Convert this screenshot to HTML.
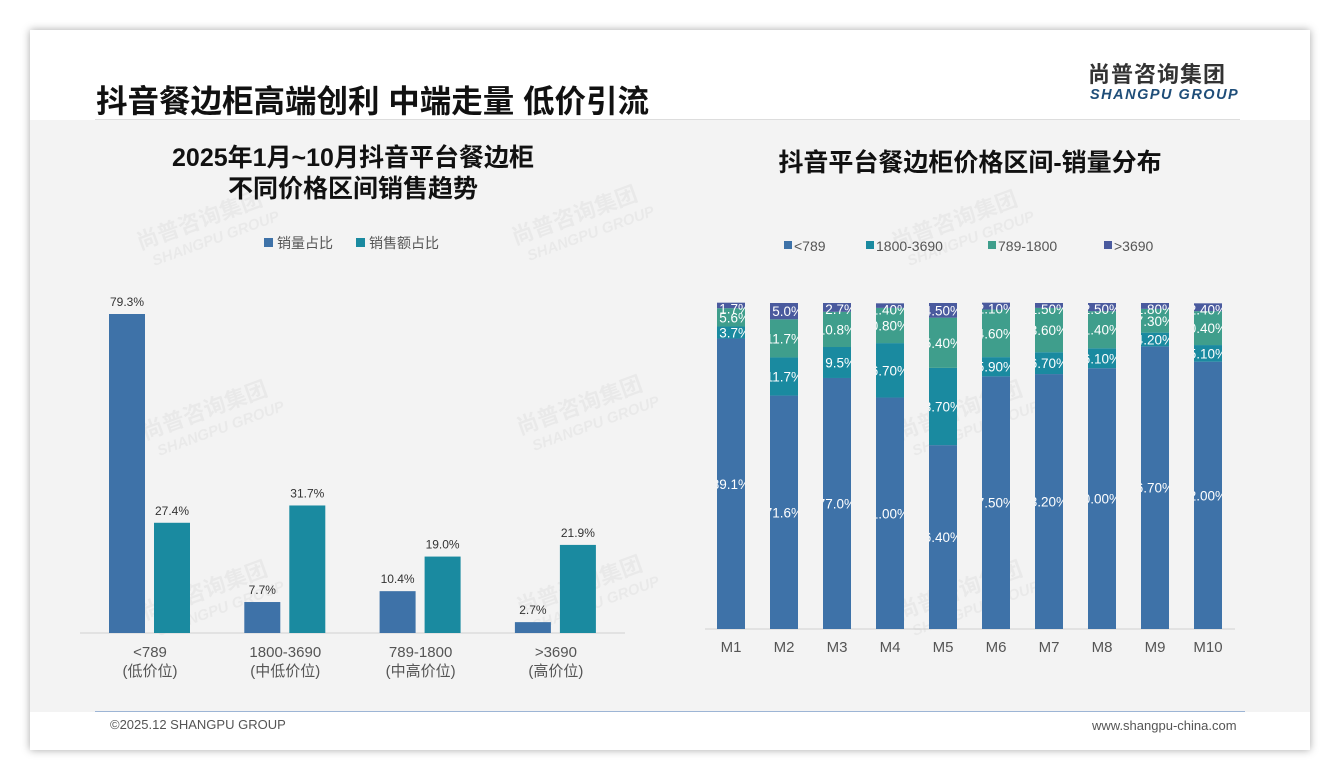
<!DOCTYPE html>
<html><head><meta charset="utf-8">
<style>
body{margin:0;width:1340px;height:780px;background:#fff;font-family:"Liberation Sans","Noto Sans CJK SC",sans-serif;overflow:hidden}
#card{position:absolute;left:30px;top:30px;width:1280px;height:720px;background:#fff;box-shadow:0 0 8px rgba(0,0,0,.35)}
#inner{position:absolute;left:30px;top:120px;width:1280px;height:592px;background:#f3f3f3}
.t{position:absolute;white-space:nowrap}
</style></head><body>
<div id="card"></div>
<div id="inner"></div>
<div class="t" style="left:96px;top:76px;font-size:31.5px;font-weight:bold;color:#111">抖音餐边柜高端创利 中端走量 低价引流</div>
<div class="t" style="left:1088px;top:57px;font-size:22px;font-weight:bold;color:#333;letter-spacing:1px">尚普咨询集团</div>
<div class="t" style="left:1090px;top:87px;font-size:14.5px;font-weight:bold;font-style:italic;color:#1f4e79;letter-spacing:1.5px">SHANGPU GROUP</div>
<div style="position:absolute;left:95px;top:119px;width:1145px;height:1px;background:#ddd"></div>
<div class="t" style="left:88px;width:530px;top:143px;text-align:center;font-size:25px;font-weight:bold;color:#111;line-height:31px">2025年1月~10月抖音平台餐边柜<br>不同价格区间销售趋势</div>
<div class="t" style="left:700px;width:540px;top:143px;text-align:center;font-size:25px;font-weight:bold;color:#111">抖音平台餐边柜价格区间-销量分布</div>
<div style="position:absolute;left:95px;top:711px;width:1150px;height:1px;background:#9db5d5"></div>
<div class="t" style="left:110px;top:717px;font-size:13px;color:#555">©2025.12 SHANGPU GROUP</div>
<div class="t" style="left:1092px;top:718px;font-size:13px;color:#555">www.shangpu-china.com</div>
<svg id="svg" width="1340" height="780" style="position:absolute;left:0;top:0" font-family="Liberation Sans, Noto Sans CJK SC, sans-serif"></svg>
<script>
const leftCats=["<789","1800-3690","789-1800",">3690"];
const leftSub=["(低价位)","(中低价位)","(中高价位)","(高价位)"];
const volShare=[79.3,7.7,10.4,2.7];
const salesShare=[27.4,31.7,19.0,21.9];
const months=["M1","M2","M3","M4","M5","M6","M7","M8","M9","M10"];
const s789=[89.1,71.6,77.0,71.0,56.4,77.5,78.2,80.0,86.7,82.0];
const s1800=[3.7,11.7,9.5,16.7,23.7,5.9,6.7,6.1,4.2,5.1];
const s789_1800=[5.6,11.7,10.8,10.8,15.4,14.6,13.6,11.4,7.3,10.4];
const s3690=[1.7,5.0,2.7,1.4,4.5,2.1,1.5,2.5,1.8,2.4];
const labels789=["89.1%","71.6%","77.0%","71.00%","56.40%","77.50%","78.20%","80.00%","86.70%","82.00%"];
const labels1800=["3.7%","11.7%","9.5%","16.70%","23.70%","5.90%","6.70%","6.10%","4.20%","5.10%"];
const labels789_1800=["5.6%","11.7%","10.8%","10.80%","15.40%","14.60%","13.60%","11.40%","7.30%","10.40%"];
const labels3690=["1.7%","5.0%","2.7%","1.40%","4.50%","2.10%","1.50%","2.50%","1.80%","2.40%"];

const NS="http://www.w3.org/2000/svg",svg=document.getElementById('svg');
function mk(tag,a,txt){const e=document.createElementNS(NS,tag);for(const k in a)e.setAttribute(k,a[k]);if(txt!=null)e.textContent=txt;svg.appendChild(e);return e;}
const BLUE="#3e72a8",TEAL="#1a8aa0",GREEN="#3f9e8c",PURP="#4a5a9e";
[[140,250],[515,245],[895,250],[145,440],[520,435],[900,440],[145,620],[520,615],[900,620]].forEach(p=>{
 let w=mk('text',{x:p[0],y:p[1],'font-size':22,'font-weight':'bold',fill:'#000','fill-opacity':0.04,transform:`rotate(-20 ${p[0]} ${p[1]})`},'尚普咨询集团');
 
 let w2=mk('text',{x:p[0]+8,y:p[1]+20,'font-size':15,'font-weight':'bold','font-style':'italic',fill:'#000','fill-opacity':0.04,transform:`rotate(-20 ${p[0]} ${p[1]})`},'SHANGPU GROUP');
 
});
const lBase=633,lScale=319/79.3;
const lx=i=>150+i*135.3;
const ly=v=>lBase-v*lScale;
let e;
e=mk('line',{x1:80,x2:625,y1:lBase,y2:lBase,stroke:'#d0d0d0'});
e=mk('rect',{x:264,y:238,width:9,height:9,fill:BLUE});
e=mk('text',{x:277,y:248,'font-size':14,fill:'#555'},'销量占比');
e=mk('rect',{x:356,y:238,width:9,height:9,fill:TEAL});
e=mk('text',{x:369,y:248,'font-size':14,fill:'#555'},'销售额占比');
leftCats.forEach((c,i)=>{
 const cx=lx(i);
 e=mk('rect',{x:cx-41,y:ly(volShare[i]),width:36,height:volShare[i]*lScale,fill:BLUE});
 e=mk('text',{x:cx-23,y:ly(volShare[i])-8,'font-size':12,fill:'#333','text-anchor':'middle'},volShare[i].toFixed(1)+'%');
 e=mk('rect',{x:cx+4,y:ly(salesShare[i]),width:36,height:salesShare[i]*lScale,fill:TEAL});
 e=mk('text',{x:cx+22,y:ly(salesShare[i])-8,'font-size':12,fill:'#333','text-anchor':'middle'},salesShare[i].toFixed(1)+'%');
 e=mk('text',{x:cx,y:657,'font-size':15,fill:'#555','text-anchor':'middle'},c);
 e=mk('text',{x:cx,y:676,'font-size':15,fill:'#555','text-anchor':'middle'},leftSub[i]);
});
const rTop=303,rBase=629,rH=rBase-rTop;
const rx=i=>731+i*53;
const rv=v=>v/100*rH;
e=mk('line',{x1:705,x2:1235,y1:rBase,y2:rBase,stroke:'#d0d0d0'});
const series=[["<789",s789,labels789,BLUE],["1800-3690",s1800,labels1800,TEAL],["789-1800",s789_1800,labels789_1800,GREEN],[">3690",s3690,labels3690,PURP]];
const legX=[784,866,988,1104];
series.forEach((s,k)=>{
 e=mk('rect',{x:legX[k],y:241,width:8,height:8,fill:s[3]});
 e=mk('text',{x:legX[k]+10,y:251,'font-size':14,fill:'#555'},s[0]);
});
const defs=mk('defs',{});
months.forEach((m,i)=>{
 const cx=rx(i);
 const cp=document.createElementNS(NS,'clipPath');cp.setAttribute('id','cp'+i);
 const cr=document.createElementNS(NS,'rect');cr.setAttribute('x',cx-14);cr.setAttribute('y',rTop-5);cr.setAttribute('width',28);cr.setAttribute('height',rH+5);
 cp.appendChild(cr);defs.appendChild(cp);
 let y=rBase;
 series.forEach((s,k)=>{
  const h=rv(s[1][i]);y-=h;
  e=mk('rect',{x:cx-14,y:y,width:28,height:h,fill:s[3]});
  const g=mk('text',{x:cx+19,y:y+Math.max(h/2,6)+5,'font-size':13.5,fill:'#fff','text-anchor':'end','clip-path':'url(#cp'+i+')'},s[2][i]);
  
 });
 e=mk('text',{x:cx,y:652,'font-size':15,fill:'#555','text-anchor':'middle'},m);
});
</script>
</body></html>
